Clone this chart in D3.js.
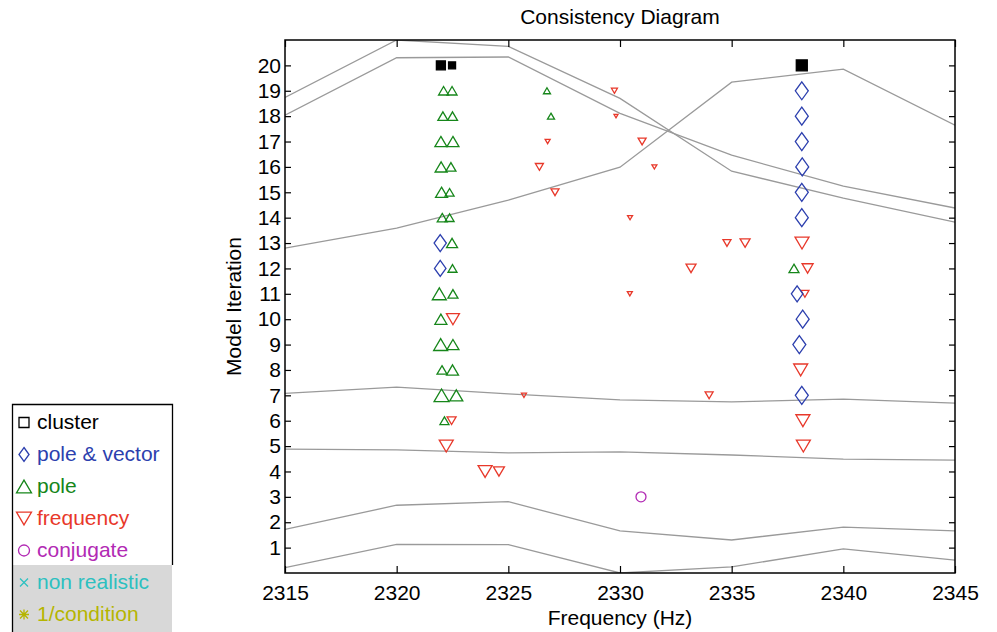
<!DOCTYPE html>
<html>
<head>
<script src="https://d3js.org/d3.v7.min.js"></script>
<style>
    body { margin: 0; background: #fff; }
    svg text { font-family: "Liberation Sans", Arial, Helvetica, sans-serif; }
</style>
</head>
<body>
<script>
// background curves, sampled every 5 Hz
var curveFreqs = [2315, 2320, 2325, 2330, 2335, 2340, 2345];
var curveA = [18.74, 21.0, 20.75, 18.70, 15.83, 14.77, 13.82];
var curveB = [18.04, 20.30, 20.33, 18.11, 16.46, 15.24, 14.38];
var curveC = [12.80, 13.59, 14.69, 15.99, 19.34, 19.85, 17.64];
var curveD = [7.08, 7.32, 7.06, 6.82, 6.74, 6.85, 6.69];
var curveE = [4.88, 4.85, 4.73, 4.77, 4.65, 4.49, 4.45];
var curveF = [1.72, 2.67, 2.81, 1.66, 1.30, 1.81, 1.66];
var curveG = [0.21, 1.13, 1.12, 0.00, 0.24, 0.95, 0.51];

// cluster (black squares)
var clusterFreq = [2321.98, 2322.48, 2338.14];
var clusterIter = [20, 20, 20];
var clusterSize = [9, 7, 11];

// pole & vector (diamonds)
var pvFreq = [2321.95, 2321.95, 2338.14, 2338.14, 2338.14, 2338.16, 2338.14, 2338.14, 2337.93, 2338.18, 2338.03, 2338.14];
var pvIter = [13, 12, 19, 18, 17, 16, 15, 14, 11, 10, 9, 7];
var pvSize = [17, 16, 18, 18, 18, 18, 18, 18, 16, 18, 18, 18];

// pole (up triangles)
var poleFreq = [2322.10, 2322.48, 2326.73, 2322.07, 2322.50, 2326.91, 2321.98, 2322.52, 2321.99, 2322.43,
    2322.01, 2322.37, 2322.04, 2322.37, 2322.48, 2322.50, 2337.79, 2321.91, 2322.52, 2321.98,
    2321.97, 2322.52, 2322.03, 2322.50, 2322.01, 2322.67, 2322.14];
var poleIter = [19, 19, 19, 18, 18, 18, 17, 17, 16, 16,
    15, 15, 14, 14, 13, 12, 12, 11, 11, 10,
    9, 9, 8, 8, 7, 7, 6];
var poleSize = [10, 10, 7, 10, 10, 7, 12, 12, 12, 10,
    12, 9, 10, 9, 11, 9, 10, 14, 10, 12,
    14, 12, 10, 12, 15, 13, 9];

// frequency (down triangles)
var freqFreq = [2329.75, 2329.82, 2326.76, 2330.99, 2326.39, 2331.54, 2327.09, 2330.45, 2334.79, 2335.60,
    2338.15, 2333.18, 2338.40, 2330.44, 2338.28, 2322.52, 2338.09, 2325.70, 2333.99, 2322.46,
    2338.19, 2322.22, 2338.21, 2323.96, 2324.58];
var freqIter = [19, 18, 17, 17, 16, 16, 15, 14, 13, 13,
    13, 12, 12, 11, 11, 10, 8, 7, 7, 6,
    6, 5, 5, 4, 4];
var freqSize = [6, 4, 5, 8, 8, 5, 8, 5, 8, 10,
    14, 10, 11, 5, 8, 13, 14, 5, 8, 9,
    14, 14, 14, 14, 11];

// conjugate (circles)
var conjFreq = [2330.94];
var conjIter = [3];
var conjSize = [10];

var xTicks = [2315, 2320, 2325, 2330, 2335, 2340, 2345];
var yTicks = d3.range(1, 21);

var legendLabels = ['cluster', 'pole & vector', 'pole', 'frequency', 'conjugate', 'non realistic', '1/condition'];
var legendColors = ['#000000', '#2c3fae', '#16861a', '#e8382a', '#b22ab4', '#2cc0c0', '#b5b500'];

var width = 997, height = 632;
var margin = {left: 285, right: 42, top: 40, bottom: 59};

var svg = d3.select('body').append('svg')
    .attr('width', width)
    .attr('height', height);

var x = d3.scaleLinear().domain([2315, 2345]).range([margin.left, width - margin.right]);
var y = d3.scaleLinear().domain([0, 21]).range([height - margin.bottom, margin.top]);

svg.append('clipPath').attr('id', 'clip')
    .append('rect')
    .attr('x', x(2315)).attr('y', y(21))
    .attr('width', x(2345) - x(2315)).attr('height', y(0) - y(21));

// curves
var line = d3.line().x(function (d, i) { return x(curveFreqs[i]); }).y(function (d) { return y(d); });
svg.append('g').attr('clip-path', 'url(#clip)')
    .selectAll('path')
    .data([curveA, curveB, curveC, curveD, curveE, curveF, curveG])
    .enter().append('path')
    .attr('d', line)
    .attr('fill', 'none')
    .attr('stroke', '#9a9a9a')
    .attr('stroke-width', 1.3);

// marker shapes
function triUp(s) {
    var h = s * 0.85;
    return 'M0,' + (-h / 2) + 'L' + (s / 2) + ',' + (h / 2) + 'L' + (-s / 2) + ',' + (h / 2) + 'Z';
}
function triDown(s) {
    var h = s * 0.85;
    return 'M0,' + (h / 2) + 'L' + (s / 2) + ',' + (-h / 2) + 'L' + (-s / 2) + ',' + (-h / 2) + 'Z';
}
function diamond(s) {
    var w = s * 0.72;
    return 'M0,' + (-s / 2) + 'L' + (w / 2) + ',0L0,' + (s / 2) + 'L' + (-w / 2) + ',0Z';
}
function square(s) {
    return 'M' + (-s / 2) + ',' + (-s / 2) + 'h' + s + 'v' + s + 'h' + (-s) + 'Z';
}

function zip(f, it, sz) {
    return f.map(function (d, i) { return {f: d, it: it[i], s: sz[i]}; });
}

function drawMarkers(data, shape, color, filled) {
    svg.append('g').selectAll('path')
        .data(data)
        .enter().append('path')
        .attr('transform', function (d) { return 'translate(' + x(d.f) + ',' + y(d.it) + ')'; })
        .attr('d', function (d) { return shape(d.s); })
        .attr('fill', filled ? color : 'none')
        .attr('stroke', color)
        .attr('stroke-width', 1.3);
}

drawMarkers(zip(poleFreq, poleIter, poleSize), triUp, legendColors[2], false);
drawMarkers(zip(freqFreq, freqIter, freqSize), triDown, legendColors[3], false);
drawMarkers(zip(pvFreq, pvIter, pvSize), diamond, legendColors[1], false);
drawMarkers(zip(clusterFreq, clusterIter, clusterSize), square, legendColors[0], true);

svg.append('g').selectAll('circle')
    .data(zip(conjFreq, conjIter, conjSize))
    .enter().append('circle')
    .attr('cx', function (d) { return x(d.f); })
    .attr('cy', function (d) { return y(d.it); })
    .attr('r', function (d) { return d.s / 2; })
    .attr('fill', 'none')
    .attr('stroke', legendColors[4])
    .attr('stroke-width', 1.3);

// axes (ticks inward, box all round)
var axisStyle = function (g) {
    g.select('.domain').remove();
    g.selectAll('.tick line').attr('stroke', '#000').attr('stroke-width', 1.2);
    g.selectAll('.tick text').attr('fill', '#000').style('font-size', '21px');
};

svg.append('g')
    .attr('transform', 'translate(0,' + y(0) + ')')
    .call(d3.axisBottom(x).tickValues(xTicks).tickFormat(d3.format('d')).tickSizeInner(-7).tickSizeOuter(0).tickPadding(12))
    .call(axisStyle);
svg.append('g')
    .attr('transform', 'translate(0,' + y(21) + ')')
    .call(d3.axisTop(x).tickValues(xTicks).tickFormat('').tickSizeInner(-7).tickSizeOuter(0))
    .call(axisStyle);
svg.append('g')
    .attr('transform', 'translate(' + x(2315) + ',0)')
    .call(d3.axisLeft(y).tickValues(yTicks).tickSizeInner(-6).tickSizeOuter(0).tickPadding(4))
    .call(axisStyle);
svg.append('g')
    .attr('transform', 'translate(' + x(2345) + ',0)')
    .call(d3.axisRight(y).tickValues(yTicks).tickFormat('').tickSizeInner(-6).tickSizeOuter(0))
    .call(axisStyle);

svg.append('rect')
    .attr('x', x(2315)).attr('y', y(21))
    .attr('width', x(2345) - x(2315)).attr('height', y(0) - y(21))
    .attr('fill', 'none').attr('stroke', '#000').attr('stroke-width', 1.5);

// title and labels
svg.append('text')
    .attr('x', (x(2315) + x(2345)) / 2).attr('y', 23.5)
    .attr('text-anchor', 'middle').style('font-size', '21px')
    .text('Consistency Diagram');
svg.append('text')
    .attr('x', (x(2315) + x(2345)) / 2).attr('y', 625)
    .attr('text-anchor', 'middle').style('font-size', '21px')
    .text('Frequency (Hz)');
svg.append('text')
    .attr('transform', 'translate(241,' + ((y(0) + y(21)) / 2) + ') rotate(-90)')
    .attr('text-anchor', 'middle').style('font-size', '21px')
    .text('Model Iteration');

// legend
var legend = svg.append('g').attr('id', 'legend');
legend.append('rect')
    .attr('x', 12).attr('y', 404).attr('width', 160).attr('height', 161)
    .attr('fill', '#fff');
legend.append('rect')
    .attr('x', 12).attr('y', 565).attr('width', 160).attr('height', 67)
    .attr('fill', '#d8d8d8');
legend.append('path')
    .attr('d', 'M12.5,632V404.5H172.5V565')
    .attr('fill', 'none').attr('stroke', '#000').attr('stroke-width', 1.3);

var legendShapes = [
    function () { return square(10); },
    function () { return diamond(14); },
    function () { return triUp(15); },
    function () { return triDown(15); },
    null, null, null
];

var items = legend.selectAll('g.item')
    .data(legendLabels)
    .enter().append('g')
    .attr('class', 'item')
    .attr('transform', function (d, i) { return 'translate(24,' + (422.5 + i * 32) + ')'; });

items.each(function (d, i) {
    var g = d3.select(this);
    var c = legendColors[i];
    if (legendShapes[i]) {
        g.append('path').attr('d', legendShapes[i]()).attr('fill', 'none')
            .attr('stroke', c).attr('stroke-width', 1.3);
    } else if (i === 4) {
        g.append('circle').attr('r', 5.5).attr('fill', 'none').attr('stroke', c).attr('stroke-width', 1.3);
    } else if (i === 5) {
        g.append('path').attr('d', 'M-4,-4L4,4M-4,4L4,-4').attr('stroke', c).attr('stroke-width', 1.3);
    } else {
        g.append('path').attr('d', 'M-5,0H5M0,-5V5M-4,-4L4,4M-4,4L4,-4').attr('stroke', c).attr('stroke-width', 1.3);
    }
    g.append('text').attr('x', 13).attr('y', 6.5)
        .style('font-size', '21px').attr('fill', c)
        .text(d);
});
</script>
</body>
</html>
